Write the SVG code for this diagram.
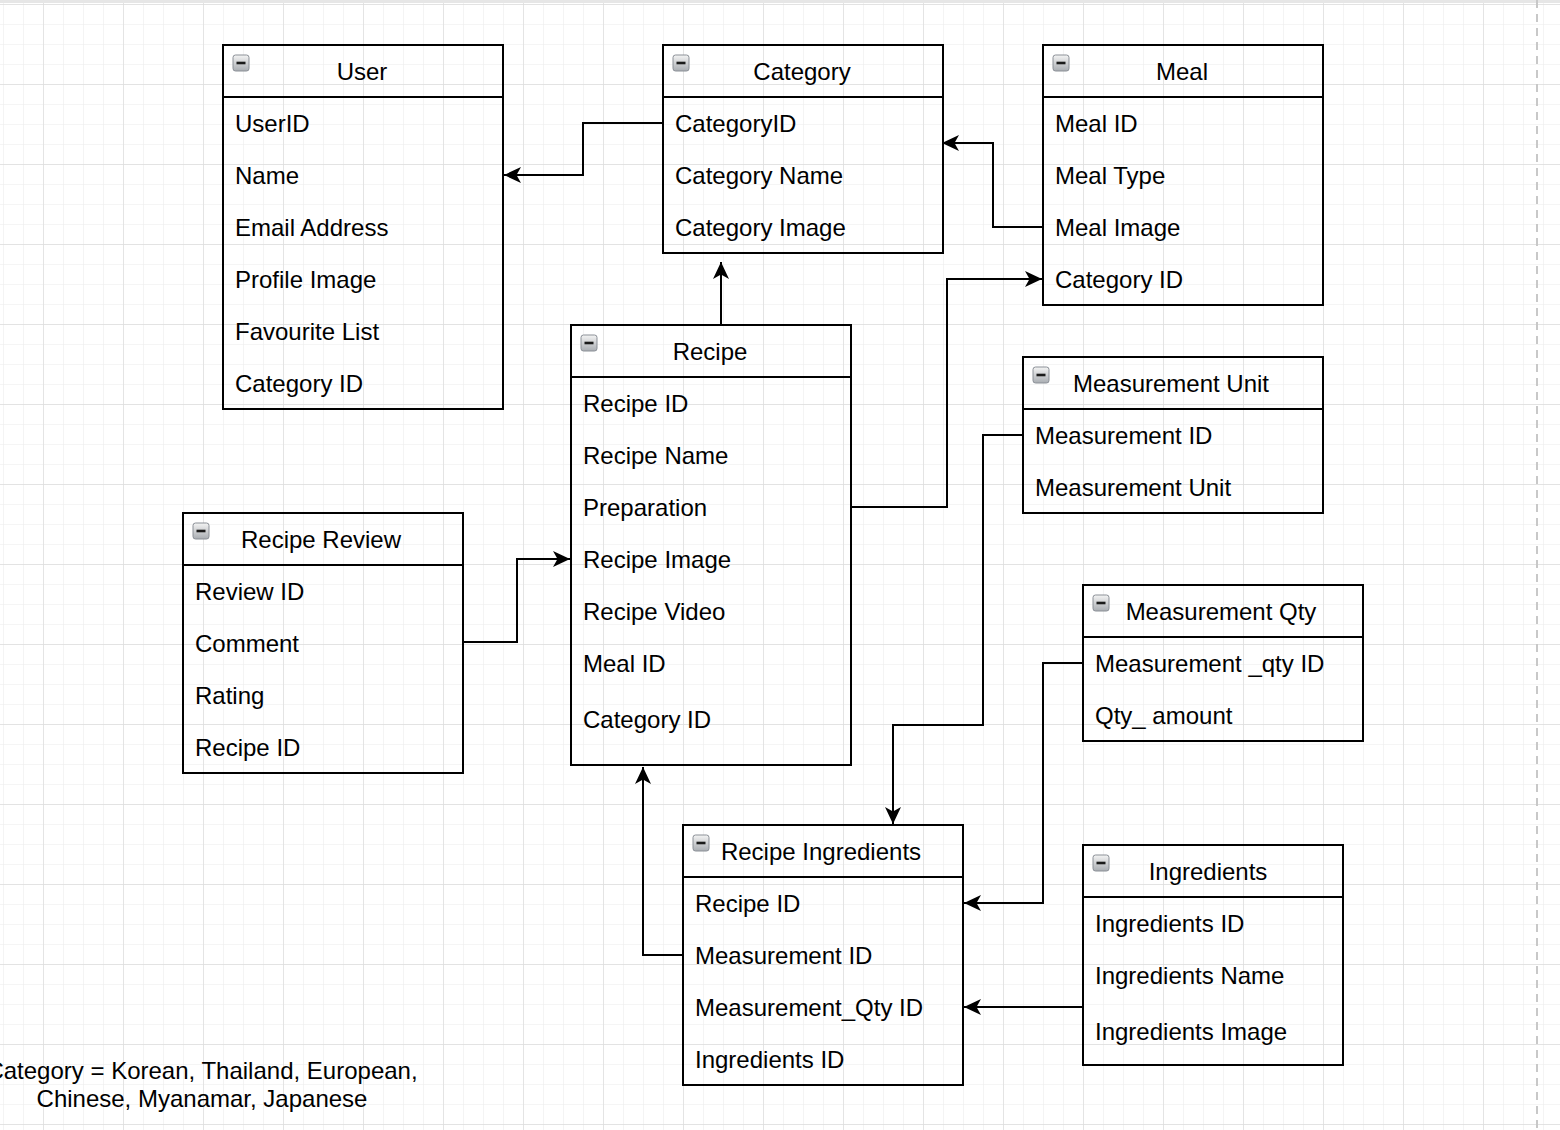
<svg xmlns="http://www.w3.org/2000/svg" width="1560" height="1130" viewBox="0 0 1560 1130">
<defs>
<pattern id="minor" patternUnits="userSpaceOnUse" x="3" y="4" width="20" height="20">
<path d="M0,0 V20 M0,0 H20" fill="none" stroke="#ececec" stroke-width="1.2"/>
</pattern>
<pattern id="major" patternUnits="userSpaceOnUse" x="43" y="4" width="80" height="80">
<path d="M0,0 V80 M0,0 H80" fill="none" stroke="#dddddd" stroke-width="1.4"/>
</pattern>
<linearGradient id="ig" x1="0" y1="0" x2="0" y2="1">
<stop offset="0" stop-color="#f4f4f4"/>
<stop offset="1" stop-color="#a9adb2"/>
</linearGradient>
<marker id="arr" viewBox="-18 -9 19 18" markerWidth="19" markerHeight="18" refX="0" refY="0" orient="auto" markerUnits="userSpaceOnUse">
<path d="M0,0 L-17,-8 L-12.5,0 L-17,8 Z" fill="#000"/>
</marker>
<g id="icon">
<rect x="-8" y="-8" width="16" height="16" rx="2.5" fill="url(#ig)" stroke="#8a8f96" stroke-width="1"/>
<path d="M-4.5,0 H4.5" stroke="#1a1a1a" stroke-width="2.6"/>
</g>
</defs>
<style>
.box{fill:none;stroke:#000;stroke-width:2}
.t{font-family:"Liberation Sans",Arial,Helvetica,sans-serif;font-size:24px;fill:#000}
.h{text-anchor:middle}
.c{fill:none;stroke:#000;stroke-width:2}
</style>
<rect width="1560" height="1130" fill="#fff"/>
<rect width="1560" height="1130" fill="url(#minor)"/>
<rect width="1560" height="1130" fill="url(#major)"/>
<rect x="0" y="0" width="1560" height="3" fill="#e6e6e6"/>
<line x1="1537" y1="0" x2="1537" y2="1130" stroke="#c8c8c8" stroke-width="2" stroke-dasharray="8,6"/>

<g id="user">
<rect class="box" x="223" y="45" width="280" height="364"/>
<line class="box" x1="223" y1="97" x2="503" y2="97"/>
<use href="#icon" x="241" y="63"/>
<text class="t h" x="362" y="80">User</text>
<text class="t" x="235" y="132">UserID</text>
<text class="t" x="235" y="184">Name</text>
<text class="t" x="235" y="236">Email Address</text>
<text class="t" x="235" y="288">Profile Image</text>
<text class="t" x="235" y="340">Favourite List</text>
<text class="t" x="235" y="392">Category ID</text>
</g>

<g id="category">
<rect class="box" x="663" y="45" width="280" height="208"/>
<line class="box" x1="663" y1="97" x2="943" y2="97"/>
<use href="#icon" x="681" y="63"/>
<text class="t h" x="802" y="80">Category</text>
<text class="t" x="675" y="132">CategoryID</text>
<text class="t" x="675" y="184">Category Name</text>
<text class="t" x="675" y="236">Category Image</text>
</g>

<g id="meal">
<rect class="box" x="1043" y="45" width="280" height="260"/>
<line class="box" x1="1043" y1="97" x2="1323" y2="97"/>
<use href="#icon" x="1061" y="63"/>
<text class="t h" x="1182" y="80">Meal</text>
<text class="t" x="1055" y="132">Meal ID</text>
<text class="t" x="1055" y="184">Meal Type</text>
<text class="t" x="1055" y="236">Meal Image</text>
<text class="t" x="1055" y="288">Category ID</text>
</g>

<g id="recipe">
<rect class="box" x="571" y="325" width="280" height="440"/>
<line class="box" x1="571" y1="377" x2="851" y2="377"/>
<use href="#icon" x="589" y="343"/>
<text class="t h" x="710" y="360">Recipe</text>
<text class="t" x="583" y="412">Recipe ID</text>
<text class="t" x="583" y="464">Recipe Name</text>
<text class="t" x="583" y="516">Preparation</text>
<text class="t" x="583" y="568">Recipe Image</text>
<text class="t" x="583" y="620">Recipe Video</text>
<text class="t" x="583" y="672">Meal ID</text>
<text class="t" x="583" y="728">Category ID</text>
</g>

<g id="measurement-unit">
<rect class="box" x="1023" y="357" width="300" height="156"/>
<line class="box" x1="1023" y1="409" x2="1323" y2="409"/>
<use href="#icon" x="1041" y="375"/>
<text class="t h" x="1171" y="392">Measurement Unit</text>
<text class="t" x="1035" y="444">Measurement ID</text>
<text class="t" x="1035" y="496">Measurement Unit</text>
</g>

<g id="recipe-review">
<rect class="box" x="183" y="513" width="280" height="260"/>
<line class="box" x1="183" y1="565" x2="463" y2="565"/>
<use href="#icon" x="201" y="531"/>
<text class="t h" x="321" y="548">Recipe Review</text>
<text class="t" x="195" y="600">Review ID</text>
<text class="t" x="195" y="652">Comment</text>
<text class="t" x="195" y="704">Rating</text>
<text class="t" x="195" y="756">Recipe ID</text>
</g>

<g id="measurement-qty">
<rect class="box" x="1083" y="585" width="280" height="156"/>
<line class="box" x1="1083" y1="637" x2="1363" y2="637"/>
<use href="#icon" x="1101" y="603"/>
<text class="t h" x="1221" y="620">Measurement Qty</text>
<text class="t" x="1095" y="672">Measurement _qty ID</text>
<text class="t" x="1095" y="724">Qty_ amount</text>
</g>

<g id="recipe-ingredients">
<rect class="box" x="683" y="825" width="280" height="260"/>
<line class="box" x1="683" y1="877" x2="963" y2="877"/>
<use href="#icon" x="701" y="843"/>
<text class="t h" x="821" y="860">Recipe Ingredients</text>
<text class="t" x="695" y="912">Recipe ID</text>
<text class="t" x="695" y="964">Measurement ID</text>
<text class="t" x="695" y="1016">Measurement_Qty ID</text>
<text class="t" x="695" y="1068">Ingredients ID</text>
</g>

<g id="ingredients">
<rect class="box" x="1083" y="845" width="260" height="220"/>
<line class="box" x1="1083" y1="897" x2="1343" y2="897"/>
<use href="#icon" x="1101" y="863"/>
<text class="t h" x="1208" y="880">Ingredients</text>
<text class="t" x="1095" y="932">Ingredients ID</text>
<text class="t" x="1095" y="984">Ingredients Name</text>
<text class="t" x="1095" y="1040">Ingredients Image</text>
</g>

<g id="note">
<text class="t h" x="202" y="1079">Category = Korean, Thailand, European,</text>
<text class="t h" x="202" y="1107">Chinese, Myanamar, Japanese</text>
</g>

<g id="connectors">
<path class="c" d="M663,123 H583 V175 H504" marker-end="url(#arr)"/>
<path class="c" d="M1043,227 H993 V143 H942" marker-end="url(#arr)"/>
<path class="c" d="M851,507 H947 V279 H1042" marker-end="url(#arr)"/>
<path class="c" d="M721,325 V262" marker-end="url(#arr)"/>
<path class="c" d="M463,642 H517 V559 H570" marker-end="url(#arr)"/>
<path class="c" d="M1023,435 H983 V725 H893 V824" marker-end="url(#arr)"/>
<path class="c" d="M1083,663 H1043 V903 H964" marker-end="url(#arr)"/>
<path class="c" d="M1083,1007 H964" marker-end="url(#arr)"/>
<path class="c" d="M683,955 H643 V767" marker-end="url(#arr)"/>
</g>
</svg>
